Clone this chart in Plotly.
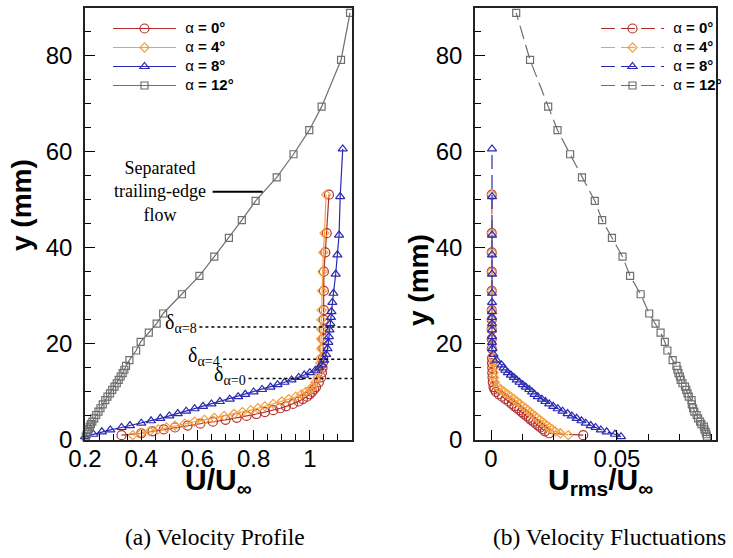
import plotly.graph_objects as go

# ---------------- data ----------------
# alpha = 0 deg
y0 = [1.0, 1.4, 1.8, 2.2, 2.6, 3.0, 3.4, 3.8, 4.2, 4.6, 5.0, 5.4, 5.8, 6.2, 6.6, 7.0, 7.5, 8.0,
      8.5, 9.0, 9.5, 10.0, 10.5, 11.0, 12.0, 13.0, 14.0, 15.0, 16.0, 17.0, 19.0, 21.0, 23.0, 25.0,
      27.0, 31.0, 35.0, 39.0, 43.0, 51.0]
u0 = [0.33, 0.40, 0.44, 0.48, 0.52, 0.565, 0.61, 0.655, 0.70, 0.74, 0.775, 0.81, 0.84, 0.87,
      0.895, 0.915, 0.94, 0.96, 0.975, 0.99, 1.0, 1.008, 1.015, 1.022, 1.032, 1.04, 1.043, 1.045,
      1.046, 1.047, 1.048, 1.048, 1.049, 1.049, 1.05, 1.05, 1.05, 1.055, 1.06, 1.068]
r0 = [0.0366, 0.0231, 0.0214, 0.0206, 0.0196, 0.0187, 0.0177, 0.0168, 0.0158, 0.015, 0.0141,
      0.0131, 0.0122, 0.0112, 0.0103, 0.0093, 0.0082, 0.007, 0.0057, 0.0044, 0.0031, 0.002,
      0.0014, 0.001, 0.0007, 0.0006, 0.0005, 0.0005, 0.0004, 0.0004, 0.0003, 0.0003, 0.0003,
      0.0003, 0.0003, 0.0003, 0.0003, 0.0003, 0.0003, 0.0003]

# alpha = 4 deg
y4 = [1.0, 1.4, 1.8, 2.2, 2.6, 3.0, 3.4, 3.8, 4.2, 4.6, 5.0, 5.4, 5.8, 6.2, 6.6, 7.0, 7.5, 8.0,
      8.5, 9.0, 9.5, 10.0, 10.5, 11.0, 12.0, 13.0, 14.0, 15.0, 16.0, 17.0, 19.0, 21.0, 23.0, 25.0,
      27.0, 31.0, 35.0, 39.0, 43.0, 51.0]
u4 = [0.37, 0.40, 0.43, 0.46, 0.49, 0.52, 0.555, 0.59, 0.625, 0.66, 0.695, 0.73, 0.76, 0.79,
      0.815, 0.84, 0.87, 0.90, 0.925, 0.95, 0.97, 0.985, 1.0, 1.01, 1.02, 1.028, 1.032, 1.035,
      1.037, 1.038, 1.04, 1.04, 1.04, 1.041, 1.042, 1.043, 1.045, 1.048, 1.052, 1.058]
r4 = [0.0307, 0.0275, 0.0255, 0.0243, 0.0232, 0.0222, 0.0212, 0.0202, 0.0193, 0.0183, 0.0174,
      0.0164, 0.0156, 0.0146, 0.0137, 0.0127, 0.0116, 0.0103, 0.0091, 0.0078, 0.0066, 0.0052,
      0.004, 0.0027, 0.0015, 0.0012, 0.0011, 0.001, 0.0009, 0.0007, 0.0005, 0.0004, 0.0003,
      0.0003, 0.0003, 0.0003, 0.0003, 0.0003, 0.0003, 0.0003]

# alpha = 8 deg
y8 = [0.7, 1.2, 1.7, 2.1, 2.6, 3.0, 3.5, 4.0, 4.5, 5.0, 5.5, 6.0, 6.5, 7.0, 7.5, 8.0, 8.5, 9.0,
      9.5, 10.0, 10.5, 11.0, 11.5, 12.0, 12.5, 13.0, 13.5, 14.0, 14.5, 15.0, 15.6, 16.6, 17.8,
      19.0, 20.3, 21.5, 22.9, 24.2, 25.5, 26.7, 28.6, 30.5, 34.5, 38.5, 42.6, 50.6, 60.5]
u8 = [0.20, 0.23, 0.26, 0.29, 0.33, 0.36, 0.40, 0.435, 0.468, 0.50, 0.53, 0.56, 0.59, 0.62,
      0.65, 0.68, 0.715, 0.745, 0.77, 0.80, 0.83, 0.86, 0.885, 0.91, 0.935, 0.96, 0.98, 1.0,
      1.02, 1.033, 1.042, 1.051, 1.058, 1.063, 1.066, 1.068, 1.07, 1.073, 1.075, 1.077, 1.08,
      1.084, 1.092, 1.098, 1.104, 1.108, 1.117]
r8 = [0.0516, 0.0492, 0.0459, 0.0436, 0.0415, 0.0396, 0.0376, 0.0359, 0.034, 0.0321, 0.0304,
      0.0284, 0.0265, 0.0247, 0.0231, 0.0216, 0.0202, 0.0186, 0.0173, 0.0163, 0.0152, 0.0138,
      0.0126, 0.0113, 0.0102, 0.0091, 0.0079, 0.0067, 0.0057, 0.005, 0.0042, 0.0022, 0.001,
      0.0006, 0.0004, 0.0004, 0.0004, 0.0004, 0.0004, 0.0004, 0.0004, 0.0004, 0.0004, 0.0004,
      0.0004, 0.0004, 0.0004]

# alpha = 12 deg
y12 = [0.7, 1.2, 1.7, 2.2, 2.8, 3.3, 3.8, 4.5, 5.2, 5.9, 6.6, 7.4, 8.3, 9.0, 9.7, 10.4, 11.1,
       11.8, 12.5, 13.2, 13.9, 14.6, 15.4, 16.6, 18.6, 20.4, 22.3, 24.2, 26.3, 30.3, 34.1, 38.1,
       42.0, 45.7, 49.7, 54.6, 59.4, 64.4, 69.3, 79.0, 88.8]
u12 = [0.203, 0.206, 0.209, 0.212, 0.217, 0.221, 0.226, 0.233, 0.24, 0.248, 0.255, 0.263,
       0.272, 0.28, 0.289, 0.297, 0.305, 0.313, 0.32, 0.327, 0.334, 0.34, 0.346, 0.358, 0.382,
       0.398, 0.427, 0.455, 0.478, 0.545, 0.607, 0.66, 0.712, 0.758, 0.807, 0.882, 0.942, 0.998,
       1.042, 1.111, 1.143]
r12 = [0.0857, 0.0855, 0.0852, 0.0847, 0.0845, 0.0835, 0.083, 0.0822, 0.0816, 0.0807, 0.0802,
       0.0797, 0.0796, 0.0785, 0.078, 0.0775, 0.077, 0.076, 0.0753, 0.075, 0.0744, 0.074,
       0.0736, 0.0721, 0.07, 0.069, 0.0673, 0.0653, 0.0628, 0.0594, 0.0552, 0.0522, 0.048,
       0.0441, 0.0412, 0.0361, 0.0314, 0.0264, 0.0227, 0.0155, 0.01]

# boundary-layer thickness markers (mm)
delta_names = ["α=0", "α=4", "α=8"]
delta_y = [12.8, 16.8, 23.5]
delta_x0 = [0.779, 0.689, 0.604]

labels = ["α <b>= 0°</b>", "α <b>= 4°</b>", "α <b>= 8°</b>", "α <b>= 12°</b>"]
colors = ["#b3302e", "#f4a040", "#2a2ab2", "#6f6f6f"]
symbols = ["circle-open", "diamond-open", "triangle-up-open", "square-open"]
msizes = [9, 7, 8, 7]

series = [(y0, u0, r0), (y4, u4, r4), (y8, u8, r8), (y12, u12, r12)]

W, H = 733, 558
def px(x):
    return x / W
def py(y):
    return 1 - y / H

def leg_text(s):
    return '<span style="font-size:15px">&nbsp;' + s + '</span>'

fig = go.Figure()
for i, (yy, uu, rr) in enumerate(series):
    fig.add_trace(go.Scatter(
        x=uu, y=yy, mode="lines+markers", name=leg_text(labels[i]), legend="legend",
        line=dict(color=colors[i], width=1.2),
        marker=dict(symbol=symbols[i], size=msizes[i], color=colors[i],
                    line=dict(color=colors[i], width=1.2)),
        cliponaxis=False, xaxis="x", yaxis="y"))
for i, (yy, uu, rr) in enumerate(series):
    fig.add_trace(go.Scatter(
        x=rr, y=yy, mode="lines+markers", name=leg_text(labels[i]), legend="legend2",
        line=dict(color=colors[i], width=1.2, dash="14px,6px"),
        marker=dict(symbol=symbols[i], size=msizes[i], color=colors[i],
                    line=dict(color=colors[i], width=1.2)),
        cliponaxis=False, xaxis="x2", yaxis="y2"))

tickfont = dict(family="Liberation Sans, Arial", size=24, color="black")
common_y = dict(range=[0, 89.8], tickvals=[0, 20, 40, 60, 80], ticks="inside", ticklen=10,
                tickwidth=1.3, tickcolor="black", showline=True, linecolor="#222",
                linewidth=1.5, mirror=True, showgrid=False, zeroline=False, tickfont=tickfont,
                minor=dict(dtick=5, ticks="inside", ticklen=6, tickcolor="black", tickwidth=1),
                ticklabelstandoff=6, automargin=False)
common_x = dict(ticks="inside", ticklen=10, tickwidth=1.3, tickcolor="black", showline=True,
                linecolor="#222", linewidth=1.5, mirror=True, showgrid=False, zeroline=False,
                tickfont=tickfont, ticklabelstandoff=-4, automargin=False)

fig.update_layout(
    width=W, height=H, margin=dict(l=0, r=0, t=0, b=0, autoexpand=False),
    paper_bgcolor="white", plot_bgcolor="white", showlegend=True,
    font=dict(family="Liberation Sans, Arial", color="black"),
    xaxis=dict(domain=[px(85), px(352)], range=[0.2, 1.15], anchor="y",
               tickvals=[0.2, 0.4, 0.6, 0.8, 1.0], ticktext=["0.2", "0.4", "0.6", "0.8", "1"],
               minor=dict(dtick=0.05, tick0=0.2, ticks="inside", ticklen=6, tickcolor="black",
                          tickwidth=1), **common_x),
    yaxis=dict(domain=[py(440), py(8)], anchor="x", **common_y),
    xaxis2=dict(domain=[px(475), px(716)], range=[-0.00635, 0.0893], anchor="y2",
                tickvals=[0, 0.05], ticktext=["0", "0.05"],
                minor=dict(dtick=0.0125, tick0=0, ticks="inside", ticklen=6, tickcolor="black",
                           tickwidth=1), **common_x),
    yaxis2=dict(domain=[py(440), py(8)], anchor="x2", **common_y),
    legend=dict(x=px(108), y=py(14), xanchor="left", yanchor="top", bgcolor="rgba(0,0,0,0)",
                font=dict(family="Liberation Sans, Arial", size=12, color="black"),
                itemwidth=63, tracegroupgap=0),
    legend2=dict(x=px(596), y=py(14), xanchor="left", yanchor="top", bgcolor="rgba(0,0,0,0)",
                 font=dict(family="Liberation Sans, Arial", size=12, color="black"),
                 itemwidth=63, tracegroupgap=0),
)

serif = "Liberation Serif, Times New Roman"
def pann(x, y, text, size, family="Liberation Sans, Arial", angle=0):
    return dict(x=px(x), y=py(y), xref="paper", yref="paper", text=text, textangle=angle,
                xanchor="center", yanchor="middle", showarrow=False, align="center",
                font=dict(family=family, size=size, color="black"))

ann = [
    pann(22, 205, "<b>y (mm)</b>", 28, angle=-90),
    pann(418, 280, "<b>y (mm)</b>", 28, angle=-90),
    pann(218, 481, "<b>U/U<sub>∞</sub></b>", 30),
    pann(600, 481, "<b>U<sub>rms</sub>/U<sub>∞</sub></b>", 30),
    pann(215, 537, "(a) Velocity Profile", 23.5, serif),
    pann(609, 537, "(b) Velocity Fluctuations", 23.5, serif),
    pann(160, 191, "Separated<br>trailing-edge<br>flow", 18, serif),
]
for name, yv, x0 in zip(delta_names, delta_y, delta_x0):
    ann.append(dict(x=x0, y=yv, xref="x", yref="y", text="δ<sub>" + name + "</sub>",
                    xanchor="right", yanchor="middle", showarrow=False, yshift=3,
                    font=dict(family=serif, size=20, color="black")))
fig.update_layout(annotations=ann)

shapes = [dict(type="line", xref="x", yref="y", x0=0.654, x1=0.832, y0=51.6, y1=51.6,
               line=dict(color="black", width=2))]
for yv, x0 in zip(delta_y, delta_x0):
    shapes.append(dict(type="line", xref="x", yref="y", x0=x0 + 0.003, x1=1.15, y0=yv, y1=yv,
                       line=dict(color="black", width=1.5, dash="dot")))
fig.update_layout(shapes=shapes)

fig.write_html("out.html")
